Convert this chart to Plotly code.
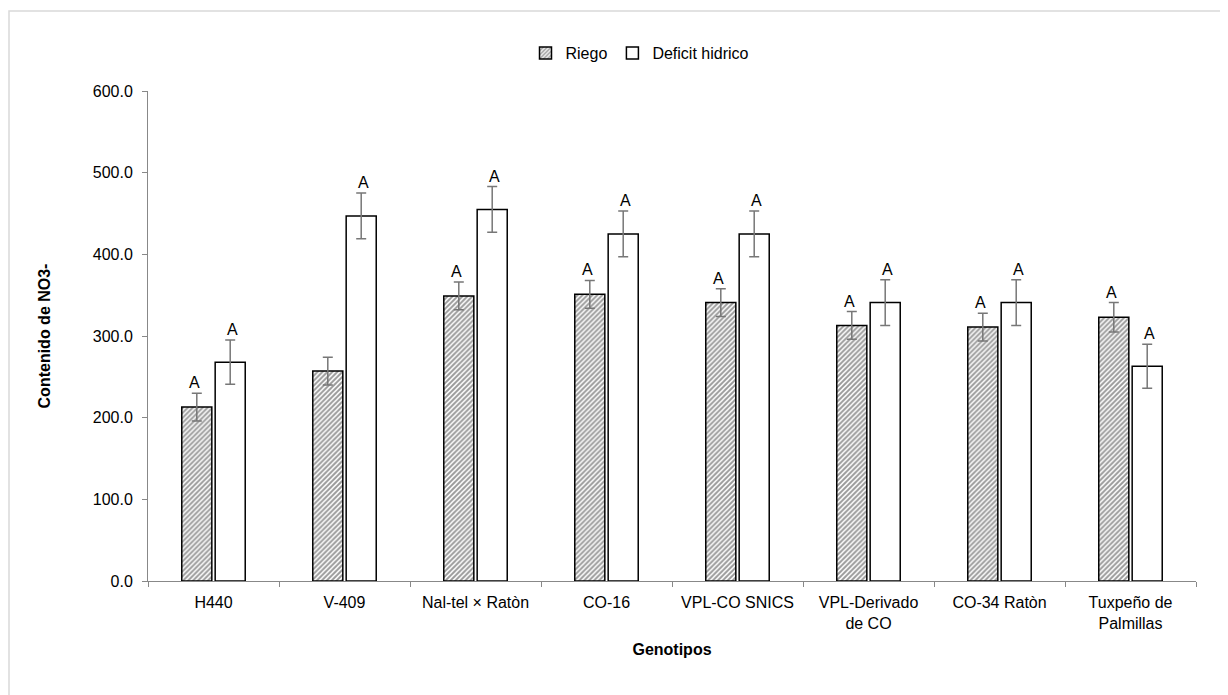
import plotly.graph_objects as go

genotipos = ["H440", "V-409", "Nal-tel × Ratòn", "CO-16", "VPL-CO SNICS",
             "VPL-Derivado<br>de CO", "CO-34 Ratòn", "Tuxpeño de<br>Palmillas"]
riego = [213, 257, 349, 351, 341, 313, 311, 323]
riego_err = [17, 17, 17, 17, 17, 17, 17, 18]
deficit = [268, 447, 455, 425, 425, 341, 341, 263]
deficit_err = [27, 28, 28, 28, 28, 28, 28, 27]
riego_lbl = ["A", "", "A", "A", "A", "A", "A", "A"]
deficit_lbl = ["A", "A", "A", "A", "A", "A", "A", "A"]

FONT = "Liberation Sans, Arial, sans-serif"
FS = 16
fig = go.Figure()
fig.add_trace(go.Bar(
    name="Riego", x=genotipos, y=riego,
    marker=dict(color="white", line=dict(color="black", width=1.5),
                pattern=dict(shape="/", fgcolor="#333", bgcolor="white", size=3.5, solidity=0.55)),
    error_y=dict(type="data", array=riego_err, color="#777", thickness=1.5, width=5),
))
fig.add_trace(go.Bar(
    name="Deficit hidrico", x=genotipos, y=deficit,
    marker=dict(color="white", line=dict(color="black", width=1.5)),
    error_y=dict(type="data", array=deficit_err, color="#777", thickness=1.5, width=5),
))

off = 0.145
for i in range(len(genotipos)):
    for lbl, v, e, dx in ((riego_lbl[i], riego[i], riego_err[i], -off),
                          (deficit_lbl[i], deficit[i], deficit_err[i], off)):
        if lbl:
            fig.add_annotation(x=i + dx, y=v + e, xref="x", yref="y", text=lbl,
                               showarrow=False, yanchor="bottom", yshift=0,
                               font=dict(family=FONT, size=FS, color="black"))

# plot area in figure coords: x 140..1188, y 83..573
PL, PR, PT, PB = 140, 1188, 83, 573
W, H = PR - PL, PB - PT
fig.add_shape(type="rect", xref="paper", yref="paper",
              x0=(1 - PL) / W, x1=(1240 - PL) / W,
              y0=(PB - 720) / H, y1=(PB - 3) / H,
              line=dict(color="#d9d9d9", width=1.5), fillcolor="rgba(0,0,0,0)", layer="below")

fig.update_layout(
    width=1220, height=687,
    margin=dict(l=PL, r=1220 - PR, t=PT, b=687 - PB),
    paper_bgcolor="white", plot_bgcolor="white",
    barmode="group", bargap=0.49, bargroupgap=0.1,
    font=dict(family=FONT, size=FS, color="black"),
    legend=dict(orientation="h", x=(632 - PL) / W, xanchor="center", y=1.0 + (PT - 45) / H,
                yanchor="middle", font=dict(size=FS), itemwidth=30, traceorder="normal"),
    xaxis=dict(showline=True, linecolor="#888", linewidth=1, ticks="outside", tickson="boundaries",
               ticklen=5, tickcolor="#888", tickfont=dict(size=FS), ticklabelstandoff=7,
               title=dict(text="<b>Genotipos</b>", font=dict(size=FS), standoff=12)),
    yaxis=dict(range=[0, 600], dtick=100, tickformat=".1f", showline=True, linecolor="#888",
               linewidth=1, ticks="outside", ticklen=5, tickcolor="#888", showgrid=False,
               zeroline=False, tickfont=dict(size=FS), ticklabelstandoff=6,
               title=dict(text="<b>Contenido de NO3-</b>", font=dict(size=FS), standoff=38)),
)
fig.write_html("out.html")
